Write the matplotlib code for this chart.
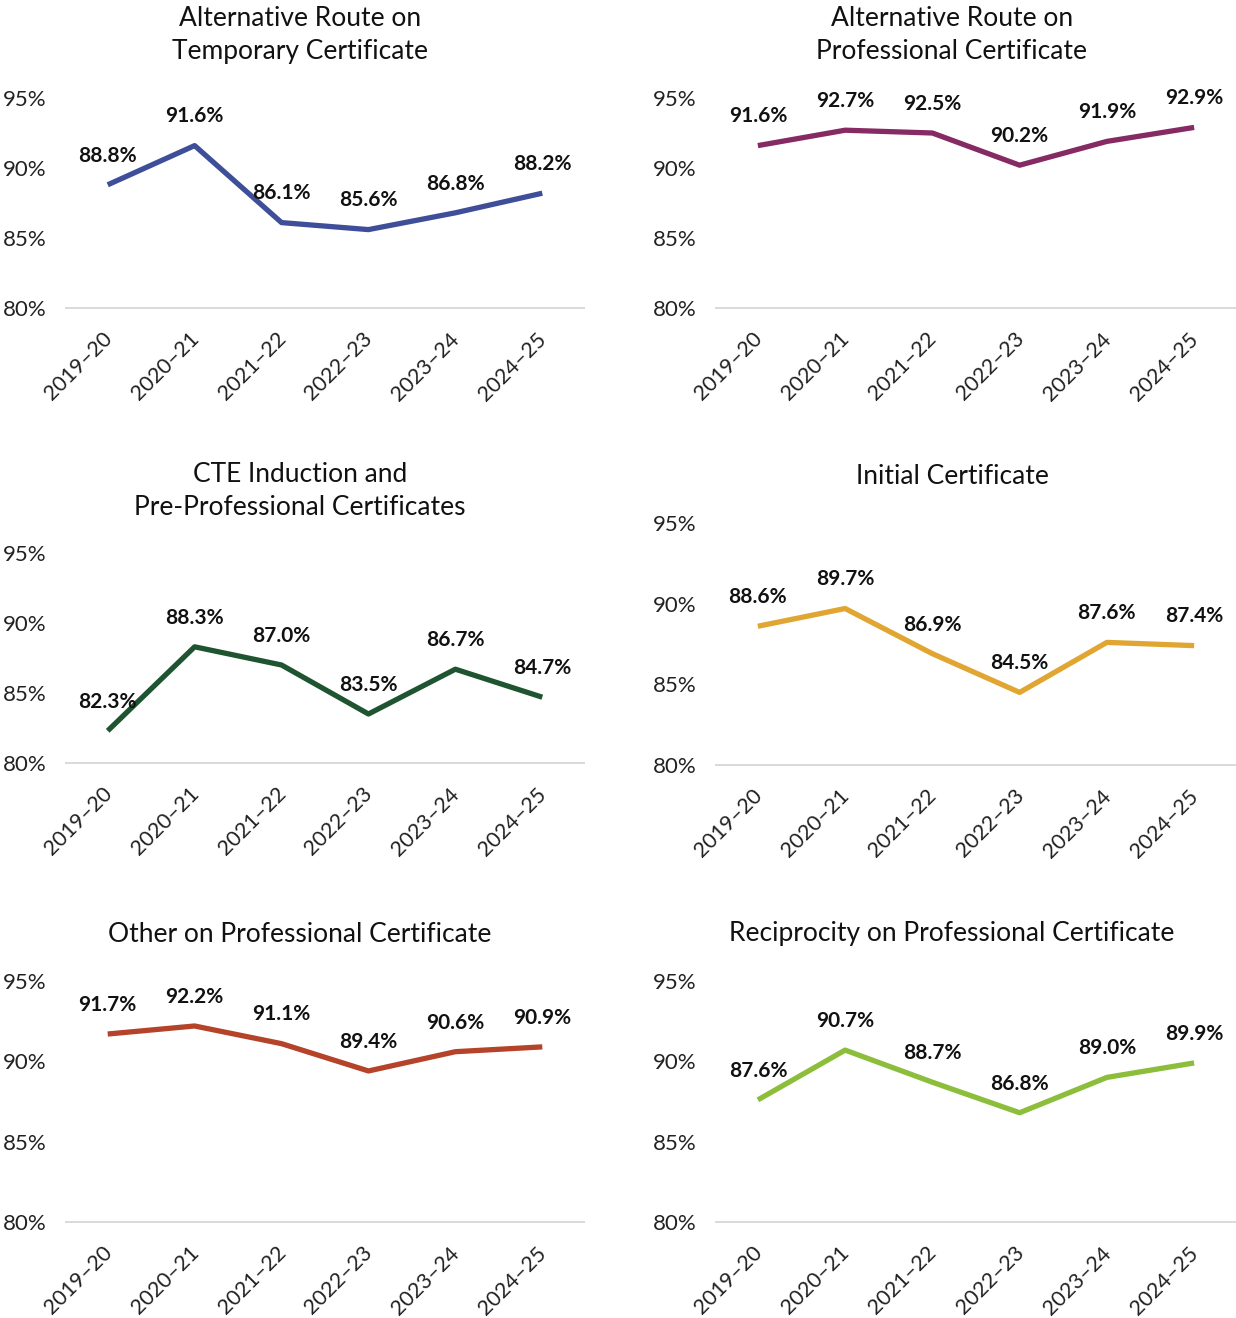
import matplotlib
matplotlib.use("Agg")
import matplotlib.pyplot as plt
import matplotlib.transforms as mtransforms

plt.rcParams["font.family"] = ["Lato", "DejaVu Sans"]

years = ["2019–20", "2020–21", "2021–22", "2022–23", "2023–24", "2024–25"]

alt_temp = [88.8, 91.6, 86.1, 85.6, 86.8, 88.2]
alt_prof = [91.6, 92.7, 92.5, 90.2, 91.9, 92.9]
cte_pre = [82.3, 88.3, 87.0, 83.5, 86.7, 84.7]
initial = [88.6, 89.7, 86.9, 84.5, 87.6, 87.4]
other_prof = [91.7, 92.2, 91.1, 89.4, 90.6, 90.9]
recip_prof = [87.6, 90.7, 88.7, 86.8, 89.0, 89.9]

titles = [
    "Alternative Route on\nTemporary Certificate",
    "Alternative Route on\nProfessional Certificate",
    "CTE Induction and\nPre-Professional Certificates",
    "Initial Certificate",
    "Other on Professional Certificate",
    "Reciprocity on Professional Certificate",
]
series = [alt_temp, alt_prof, cte_pre, initial, other_prof, recip_prof]
colors = ["#3e4e99", "#862a63", "#1e5430", "#e0a631", "#b5432a", "#8cbd3b"]

y_ticks = [80, 85, 90, 95]

W, H = 1236, 1318
fig = plt.figure(figsize=(W / 100, H / 100), dpi=100)

# panel boxes in pixels: left, right, top (95%), bottom (80%), title centre y, title centre x
boxes = [
    (66, 584, 98, 308, 35, 300),
    (716, 1236, 98, 308, 35, 952),
    (66, 584, 553, 763, 491, 300),
    (716, 1236, 523, 765, 476, 952),
    (66, 584, 981, 1222, 934, 300),
    (716, 1236, 981, 1222, 934, 952),
]

# nudge rotated year labels a little to the left
shift = mtransforms.ScaledTranslation(-6 / 100, 0, fig.dpi_scale_trans)

for vals, title, color, (l, r, t, b, ty, tx) in zip(series, titles, colors, boxes):
    ax = fig.add_axes([l / W, 1 - b / H, (r - l) / W, (b - t) / H])
    x = range(len(years))
    ax.plot(x, vals, color=color, lw=3.8, solid_capstyle="butt", clip_on=False, zorder=3)
    for xi, v in zip(x, vals):
        ax.annotate(f"{v:.1f}%", (xi, v), xytext=(0, 21), textcoords="offset points",
                    ha="center", va="center", fontsize=15, fontweight="bold",
                    color="#111111", zorder=4)
    ax.set_xlim(-0.48, 5.48)
    ax.set_ylim(80, 95)
    ax.set_yticks(y_ticks)
    ax.set_yticklabels([f"{v}%" for v in y_ticks], fontsize=16, color="#222222")
    ax.set_xticks(list(x))
    ax.tick_params(axis="y", length=0, pad=14)
    ax.tick_params(axis="x", length=0, pad=15)
    ax.set_xticklabels(years, rotation=45, ha="right", rotation_mode="anchor",
                       fontsize=15.5, color="#222222")
    for lab in ax.get_xticklabels():
        lab.set_transform(lab.get_transform() + shift)
    for s in ["top", "right", "left"]:
        ax.spines[s].set_visible(False)
    ax.spines["bottom"].set_color("#d9d9d9")
    ax.spines["bottom"].set_linewidth(1.4)
    ax.set_facecolor("none")
    fig.text(tx / W, 1 - ty / H, title, ha="center", va="center", fontsize=19,
             color="#111111", linespacing=1.38)

fig.savefig("out.png", dpi=100, facecolor="white")
